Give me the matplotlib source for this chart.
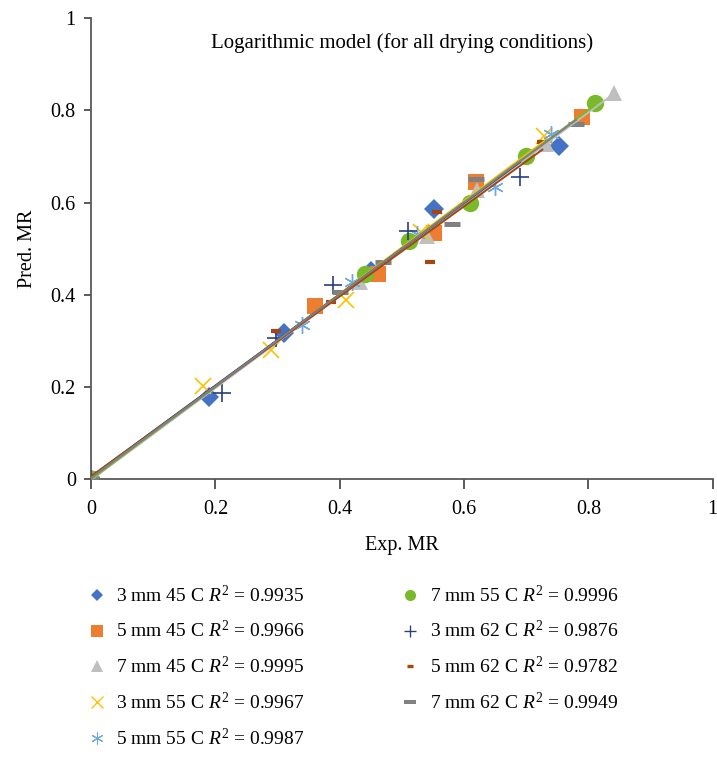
import matplotlib
matplotlib.use("Agg")
import matplotlib.pyplot as plt
import numpy as np
from matplotlib.lines import Line2D

plt.rcParams["font.family"] = ["Liberation Serif", "DejaVu Serif"]
plt.rcParams["mathtext.fontset"] = "custom"
plt.rcParams["mathtext.rm"] = "Liberation Serif"
plt.rcParams["mathtext.it"] = "Liberation Serif:italic"

# Data (Exp. MR, Pred. MR) per drying condition
labels = ["3 mm 45 C", "5 mm 45 C", "7 mm 45 C", "3 mm 55 C", "5 mm 55 C",
          "7 mm 55 C", "3 mm 62 C", "5 mm 62 C", "7 mm 62 C"]
r2 = ["0.9935", "0.9966", "0.9995", "0.9967", "0.9987",
      "0.9996", "0.9876", "0.9782", "0.9949"]

exp_mr = [
    [0, 0.19, 0.31, 0.45, 0.551, 0.752],
    [0, 0.36, 0.461, 0.551, 0.62, 0.79],
    [0, 0.433, 0.54, 0.621, 0.732, 0.842],
    [0, 0.18, 0.29, 0.41, 0.531, 0.729],
    [0, 0.34, 0.42, 0.525, 0.65, 0.74],
    [0, 0.441, 0.511, 0.61, 0.70, 0.81],
    [0, 0.211, 0.298, 0.39, 0.51, 0.69],
    [0, 0.297, 0.386, 0.546, 0.557, 0.726],
    [0, 0.40, 0.47, 0.58, 0.62, 0.78],
]
pred_mr = [
    [0, 0.178, 0.316, 0.452, 0.587, 0.722],
    [0, 0.376, 0.446, 0.533, 0.644, 0.785],
    [0, 0.427, 0.527, 0.628, 0.727, 0.837],
    [0, 0.201, 0.28, 0.389, 0.536, 0.744],
    [0, 0.334, 0.427, 0.531, 0.633, 0.749],
    [0, 0.444, 0.516, 0.60, 0.70, 0.815],
    [0, 0.187, 0.305, 0.422, 0.538, 0.655],
    [0, 0.321, 0.385, 0.47, 0.58, 0.732],
    [0, 0.405, 0.472, 0.553, 0.651, 0.771],
]

colors = ["#4472C4", "#ED7D31", "#BFBFBF", "#FFC000", "#6FA8DC",
          "#7AB929", "#2A3F7A", "#A5450F", "#808080"]
# marker, size(pt), edge width
styles = [
    ("D", 10, 0),
    ("s", 12, 0),
    ("^", 12, 0),
    ("x", 11, 1.2),
    ((6, 2, 0), 12, 1.0),
    ("o", 12.5, 0),
    ("+", 13, 1.2),
    ("_", 7, 3.0),
    ("_", 12, 3.6),
]
leg_sizes = [6.5, 8, 8, 8.5, 8.5, 8, 8.5, 5, 8]

fig = plt.figure(figsize=(7.17, 7.58), dpi=100)
ax = fig.add_axes([0.127, 0.368, 0.867, 0.608])

for i in range(len(labels)):
    m, ms, mew = styles[i]
    c = colors[i]
    ax.plot(exp_mr[i], pred_mr[i], linestyle="none", marker=m, markersize=ms,
            markerfacecolor=c, markeredgecolor=c, markeredgewidth=mew, zorder=3)

# linear trend lines
for i in range(len(labels)):
    xs = np.array(exp_mr[i])
    k, b = np.polyfit(xs, pred_mr[i], 1)
    xl = np.array([0, xs.max()])
    ax.plot(xl, k * xl + b, color=colors[i], lw=1.4, zorder=4)

ax.set_xlim(0, 1)
ax.set_ylim(0, 1)
ticks = [0, 0.2, 0.4, 0.6, 0.8, 1]
tl = ["0", "0.2", "0.4", "0.6", "0.8", "1"]
ax.set_xticks(ticks)
ax.set_xticklabels(tl)
ax.set_yticks(ticks)
ax.set_yticklabels(tl)
ax.tick_params(labelsize=14.5, width=1.2, color="#404040")
ax.tick_params(axis="x", length=7, pad=8)
ax.tick_params(axis="y", length=5, pad=6)
for s in ["top", "right"]:
    ax.spines[s].set_visible(False)
for s in ["left", "bottom"]:
    ax.spines[s].set_color("#595959")
    ax.spines[s].set_linewidth(1.3)
ax.set_xlabel("Exp. MR", fontsize=14.5, labelpad=12)
ax.set_ylabel("Pred. MR", fontsize=14.5, labelpad=10)
ax.text(0.5, 0.946, "Logarithmic model (for all drying conditions)",
        transform=ax.transAxes, ha="center", va="center", fontsize=15)

handles = []
for i in range(len(labels)):
    m, ms, mew = styles[i]
    handles.append(Line2D([], [], linestyle="none", marker=m,
                          markersize=leg_sizes[i], color=colors[i],
                          markeredgewidth=(mew * 0.8 if mew else 0)))
leg_labels = [f"{l} $R^2$ = {r}" for l, r in zip(labels, r2)]
fig.legend(handles, leg_labels, loc="upper left", bbox_to_anchor=(0.094, 0.252),
           ncol=2, frameon=False, fontsize=14, handlelength=1.2,
           handletextpad=0.4, labelspacing=0.75, columnspacing=4.85)

fig.savefig("out.png", dpi=100)
